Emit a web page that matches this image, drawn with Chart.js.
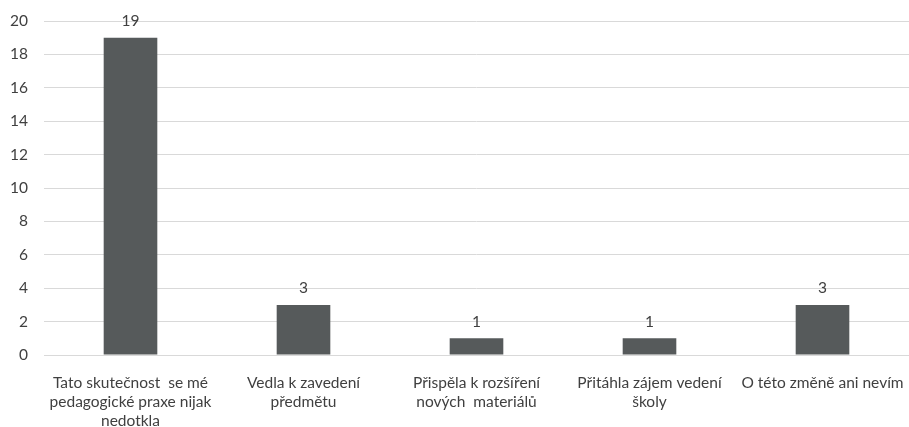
<!DOCTYPE html>
<html>
<head>
<meta charset="utf-8">
<script src="https://cdn.jsdelivr.net/npm/chart.js@4/dist/chart.umd.min.js"></script>
<style>
  html, body { margin: 0; padding: 0; background: #fff; }
  #wrap { width: 909px; height: 427px; }
</style>
</head>
<body>
<div id="wrap"><canvas id="graf"></canvas></div>
<script>
// odpovědi a počty
const kategorie = [
  ['Tato skutečnost  se mé', 'pedagogické praxe nijak', 'nedotkla'],
  ['Vedla k zavedení', 'předmětu'],
  ['Přispěla k rozšíření', 'nových  materiálů'],
  ['Přitáhla zájem vedení', 'školy'],
  ['O této změně ani nevím']
];
const pocty = [19, 3, 1, 1, 3];
const osaY = { min: 0, max: 20, krok: 2 };

const pismo = { family: 'Lato', size: 15.5, lineHeight: 1.25 };

// hodnoty nad sloupci
const popisky = {
  id: 'popisky',
  afterDatasetsDraw(chart) {
    const ctx = chart.ctx;
    const meta = chart.getDatasetMeta(0);
    ctx.save();
    ctx.font = '15.5px Lato, sans-serif';
    ctx.fillStyle = '#404040';
    ctx.textAlign = 'center';
    ctx.textBaseline = 'bottom';
    meta.data.forEach((bar, i) => {
      ctx.fillText(pocty[i], bar.x, bar.y - 9);
    });
    ctx.restore();
  }
};

new Chart(document.getElementById('graf'), {
  type: 'bar',
  data: {
    labels: kategorie,
    datasets: [{
      data: pocty,
      backgroundColor: '#565a5b',
      categoryPercentage: 1,
      barPercentage: 0.31
    }]
  },
  options: {
    responsive: true,
    maintainAspectRatio: false,
    animation: false,
    layout: { padding: { top: 21, left: 0, right: 0, bottom: 0 } },
    plugins: {
      legend: { display: false },
      tooltip: { enabled: false }
    },
    scales: {
      x: {
        grid: { display: false },
        border: { color: '#d9d9d9' },
        afterFit(scale) {
          scale.height = 72;
          scale.paddingLeft = 0;
          scale.paddingRight = 0;
        },
        ticks: {
          color: '#404040',
          font: pismo,
          maxRotation: 0,
          autoSkip: false,
          padding: 10
        }
      },
      y: {
        min: osaY.min,
        max: osaY.max,
        grid: { color: '#d9d9d9', drawTicks: false },
        border: { display: false },
        afterFit(scale) {
          scale.width = 44;
          scale.paddingTop = 0;
          scale.paddingBottom = 0;
        },
        ticks: {
          stepSize: osaY.krok,
          color: '#404040',
          font: pismo,
          padding: 16
        }
      }
    }
  },
  plugins: [popisky]
});
</script>
</body>
</html>
